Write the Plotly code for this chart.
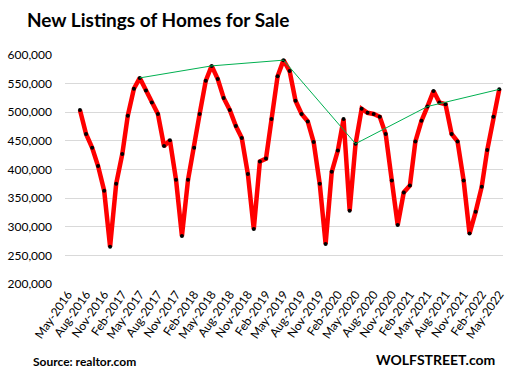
import pandas as pd
import plotly.graph_objects as go

# New listings (thousands), monthly Jul-2016 .. May-2022
start_month = "2016-07-01"
new_listings_k = [
    504, 462, 438, 406, 363, 265,            # Jul-Dec 2016
    375, 427, 494, 541, 560, 538, 517, 497, 441, 451, 382, 284,   # 2017
    382, 438, 497, 555, 581, 558, 525, 504, 476, 455, 392, 296,   # 2018
    414, 419, 488, 563, 591, 572, 520, 497, 484, 448, 375, 270,   # 2019
    396, 433, 488, 328, 445, 506, 499, 497, 492, 462, 381, 303,   # 2020
    360, 372, 449, 485, 510, 537, 517, 514, 462, 449, 381, 288,   # 2021
    326, 370, 434, 492, 540,                  # Jan-May 2022
]
y_ticks = [200000, 250000, 300000, 350000, 400000, 450000, 500000, 550000, 600000]
x_tick_start, x_tick_end = "2016-05-01", "2022-05-01"

months = pd.date_range(start_month, periods=len(new_listings_k), freq="MS")
values = [v * 1000 for v in new_listings_k]
may_x = [m for m in months if m.month == 5]
may_y = [v for m, v in zip(months, values) if m.month == 5]
tickvals = pd.date_range(x_tick_start, x_tick_end, freq="3MS")

font = "Lato, 'Open Sans', sans-serif"

fig = go.Figure()
fig.add_trace(go.Scatter(
    x=months, y=values, mode="lines+markers",
    line=dict(color="#ff0000", width=4.5),
    marker=dict(color="black", size=4),
    showlegend=False,
))
fig.add_trace(go.Scatter(
    x=may_x, y=may_y, mode="lines",
    line=dict(color="#00b050", width=1),
    showlegend=False,
))

fig.update_layout(
    width=522, height=375,
    margin=dict(l=65, r=19, t=55, b=91, autoexpand=False),
    paper_bgcolor="white", plot_bgcolor="white",
    font=dict(family=font, size=12, color="black"),
    annotations=[
        dict(text="<b>New Listings of Homes for Sale</b>", xref="paper", yref="paper",
             x=(25-65)/438, y=(284.3-19)/229.3, xanchor="left", yanchor="middle",
             showarrow=False, font=dict(family=font, size=19, color="black")),
        dict(text="<b>Source: realtor.com</b>", xref="paper", yref="paper",
             x=(31-65)/438, y=(284.3-362)/229.3, xanchor="left", yanchor="middle",
             showarrow=False, font=dict(family=font, size=12, color="black")),
        dict(text="<b>WOLFSTREET.com</b>", xref="paper", yref="paper",
             x=(497-65)/438, y=(284.3-360)/229.3, xanchor="right", yanchor="middle",
             showarrow=False, font=dict(family=font, size=14, color="black")),
    ],
    xaxis=dict(
        type="date", automargin=False,
        range=["2016-04-16", "2022-05-20"],
        tickmode="array", tickvals=list(tickvals),
        ticktext=[t.strftime("%b-%Y") for t in tickvals],
        tickangle=-55, showgrid=False, zeroline=False,
        showline=False, ticks="",
        tickfont=dict(size=12),
    ),
    yaxis=dict(
        range=[200000, 600000], automargin=False,
        tickmode="array", tickvals=y_ticks,
        ticktext=[f"{v:,}" for v in y_ticks],
        gridcolor="#d9d9d9", gridwidth=1,
        zeroline=False, showline=False, ticks="",
        ticklabelstandoff=12,
        tickfont=dict(size=12),
    ),
)

fig.write_html("out.html",
               config={"displayModeBar": False},
               post_script="document.body.style.margin='0';document.body.style.overflow='hidden';")
